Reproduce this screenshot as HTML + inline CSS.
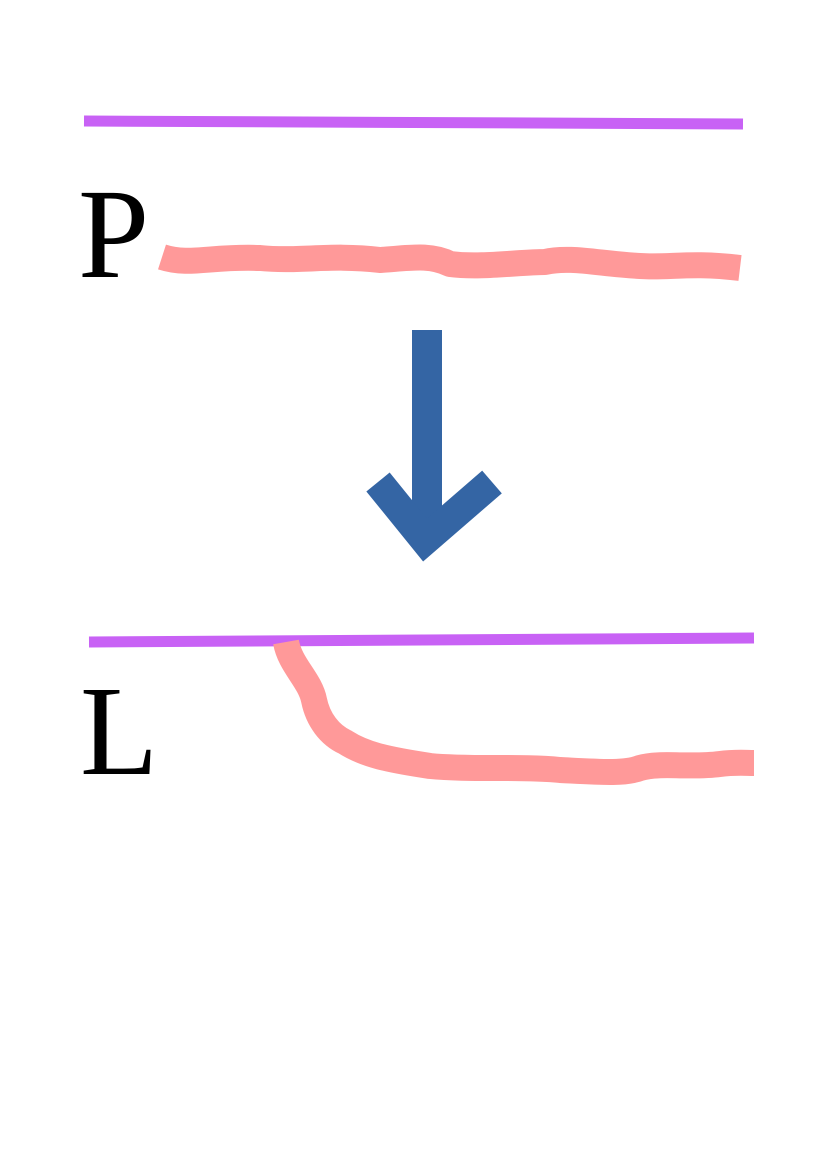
<!DOCTYPE html>
<html>
<head>
<meta charset="utf-8">
<style>
  html, body { margin: 0; padding: 0; background: #ffffff; }
  svg { display: block; }
</style>
</head>
<body>
<svg width="826" height="1169" viewBox="0 0 826 1169" xmlns="http://www.w3.org/2000/svg">
  <rect x="0" y="0" width="826" height="1169" fill="#ffffff"/>

  <line x1="84" y1="121" x2="743" y2="124" stroke="#c862f5" stroke-width="11"/>
  <text x="78" y="277" font-family="Liberation Serif, serif" font-size="128" fill="#000000">P</text>
  <path d="M162 257 C 190 266, 210 256, 260 258 C 300 262, 330 254, 380 260 C 410 258, 430 254, 450 264 C 480 268, 520 262, 545 262 C 570 256, 600 264, 640 266 C 670 268, 690 262, 740 268"
        fill="none" stroke="#ff9999" stroke-width="26" stroke-linejoin="round"/>

  <line x1="427" y1="330" x2="427" y2="540" stroke="#3465a4" stroke-width="30"/>
  <polyline points="378,482 425,540 492,482" fill="none" stroke="#3465a4" stroke-width="30" stroke-linejoin="miter"/>

  <line x1="89" y1="642" x2="754" y2="638" stroke="#c862f5" stroke-width="11"/>
  <text x="80" y="774" font-family="Liberation Serif, serif" font-size="128" fill="#000000">L</text>
  <path d="M286 642 C 290 665, 310 680, 314 700 C 318 720, 330 735, 345 742 C 365 755, 390 760, 430 766 C 470 770, 520 766, 560 770 C 600 772, 625 774, 640 768 C 660 762, 690 768, 720 764 C 735 762, 745 763, 754 763"
        fill="none" stroke="#ff9999" stroke-width="26" stroke-linejoin="round"/>
</svg>
</body>
</html>
